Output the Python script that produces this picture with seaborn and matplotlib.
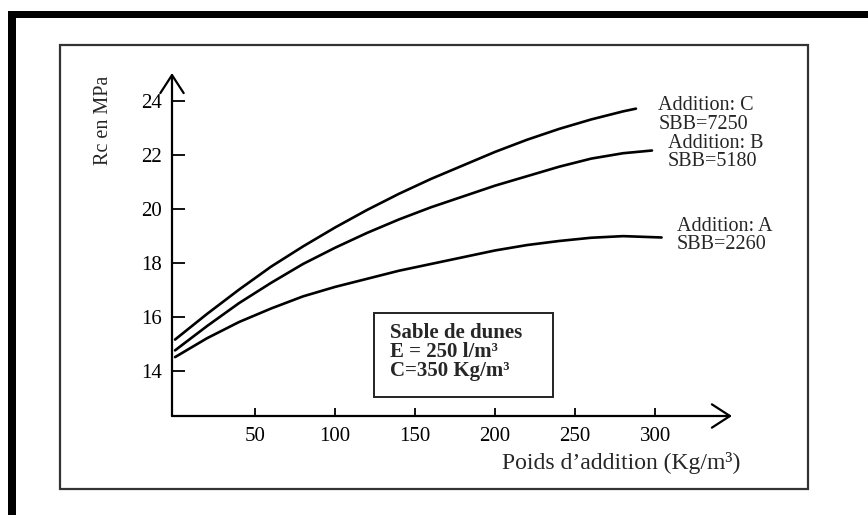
import pandas as pd
import matplotlib
matplotlib.use("Agg")
import matplotlib.pyplot as plt
from matplotlib.patches import Rectangle
import seaborn as sns

# values
poids_c = [0, 20, 40, 60, 80, 100, 120, 140, 160, 180, 200, 220, 240, 260, 280, 288]
rc_c = [15.15, 16.1, 17.0, 17.85, 18.6, 19.3, 19.95, 20.55, 21.1, 21.6, 22.1, 22.55, 22.95, 23.3, 23.6, 23.7]

poids_b = [0, 20, 40, 60, 80, 100, 120, 140, 160, 180, 200, 220, 240, 260, 280, 298]
rc_b = [14.75, 15.65, 16.5, 17.25, 17.95, 18.55, 19.1, 19.6, 20.05, 20.45, 20.85, 21.2, 21.55, 21.85, 22.05, 22.15]

poids_a = [0, 20, 40, 60, 80, 100, 120, 140, 160, 180, 200, 220, 240, 260, 280, 304]
rc_a = [14.5, 15.2, 15.8, 16.3, 16.75, 17.1, 17.4, 17.7, 17.95, 18.2, 18.45, 18.65, 18.8, 18.92, 18.98, 18.93]

x_ticks = [50, 100, 150, 200, 250, 300]
y_ticks = [14, 16, 18, 20, 22, 24]

labels = {
    "C": "Addition: C\nSBB=7250",
    "B": "Addition: B\nSBB=5180",
    "A": "Addition: A\nSBB=2260",
}

df = pd.concat([
    pd.DataFrame({"Poids": poids_c, "Rc": rc_c, "Addition": "C"}),
    pd.DataFrame({"Poids": poids_b, "Rc": rc_b, "Addition": "B"}),
    pd.DataFrame({"Poids": poids_a, "Rc": rc_a, "Addition": "A"}),
], ignore_index=True)

sns.set_style("white")
plt.rcParams["font.family"] = ["Liberation Serif", "DejaVu Serif"]

W, H = 868, 515
fig = plt.figure(figsize=(W / 100, H / 100), dpi=100)


def fx(px):
    return px / W


def fy(py):
    return 1 - py / H


# frames around the figure
fig.patches.append(Rectangle((fx(8), fy(18)), fx(860), 7 / H, transform=fig.transFigure,
                             facecolor="black", edgecolor="none"))
fig.patches.append(Rectangle((fx(8), 0), 8 / W, fy(11), transform=fig.transFigure,
                             facecolor="black", edgecolor="none"))
fig.patches.append(Rectangle((fx(60), fy(489)), fx(748), 444 / H, transform=fig.transFigure,
                             facecolor="none", edgecolor="#333333", linewidth=1.6))

ax = fig.add_axes([fx(172), fy(416), fx(732) - fx(172), fy(73) - fy(416)])
ax.patch.set_alpha(0)
sns.lineplot(data=df, x="Poids", y="Rc", hue="Addition", units="Addition", estimator=None,
             palette={"A": "black", "B": "black", "C": "black"}, linewidth=1.9,
             legend=False, sort=False, ax=ax)

ax.set_xlim(-1.9, 348)
ax.set_ylim(12.32, 25.02)
ax.set_xticks(x_ticks)
ax.set_yticks(y_ticks)
ax.set_xlabel("")
ax.set_ylabel("")
for s in ax.spines.values():
    s.set_visible(False)
ax.tick_params(axis="y", left=True, direction="in", length=9, width=1.3, pad=7,
               labelsize=15, colors="black")
ax.tick_params(axis="x", bottom=True, direction="in", length=6, width=1.3, pad=8,
               labelsize=15, colors="black")

# axes with arrow heads
arrow = dict(arrowstyle="->,head_length=0.65,head_width=0.42", lw=1.6, color="black",
             mutation_scale=20, shrinkA=0, shrinkB=0)
ax.annotate("", xy=(1, 0), xytext=(0, 0), xycoords="axes fraction", arrowprops=arrow)
ax.annotate("", xy=(0, 1), xytext=(0, 0), xycoords="axes fraction", arrowprops=arrow)

# curve labels
ax.text(302, 23.46, labels["C"], ha="left", va="center", fontsize=14.5, linespacing=0.95)
ax.text(308, 22.07, labels["B"], ha="left", va="center", fontsize=14.5, linespacing=0.95)
ax.text(313.7, 19.0, labels["A"], ha="left", va="center", fontsize=14.5, linespacing=0.95)

# info box
fig.patches.append(Rectangle((fx(374), fy(397)), fx(179), 84 / H, transform=fig.transFigure,
                             facecolor="white", edgecolor="#222222", linewidth=1.4))
fig.text(fx(390), fy(352), "Sable de dunes\nE = 250 l/m³\nC=350 Kg/m³", ha="left", va="center",
         fontsize=15, fontweight="bold", linespacing=0.92)

fig.text(fx(104), fy(120), "Rc en MPa", rotation=90, ha="center", va="center", fontsize=14.5)
fig.text(fx(621), fy(463), "Poids d’addition (Kg/m³)", ha="center", va="center", fontsize=17)

fig.savefig("out.png", dpi=100)
